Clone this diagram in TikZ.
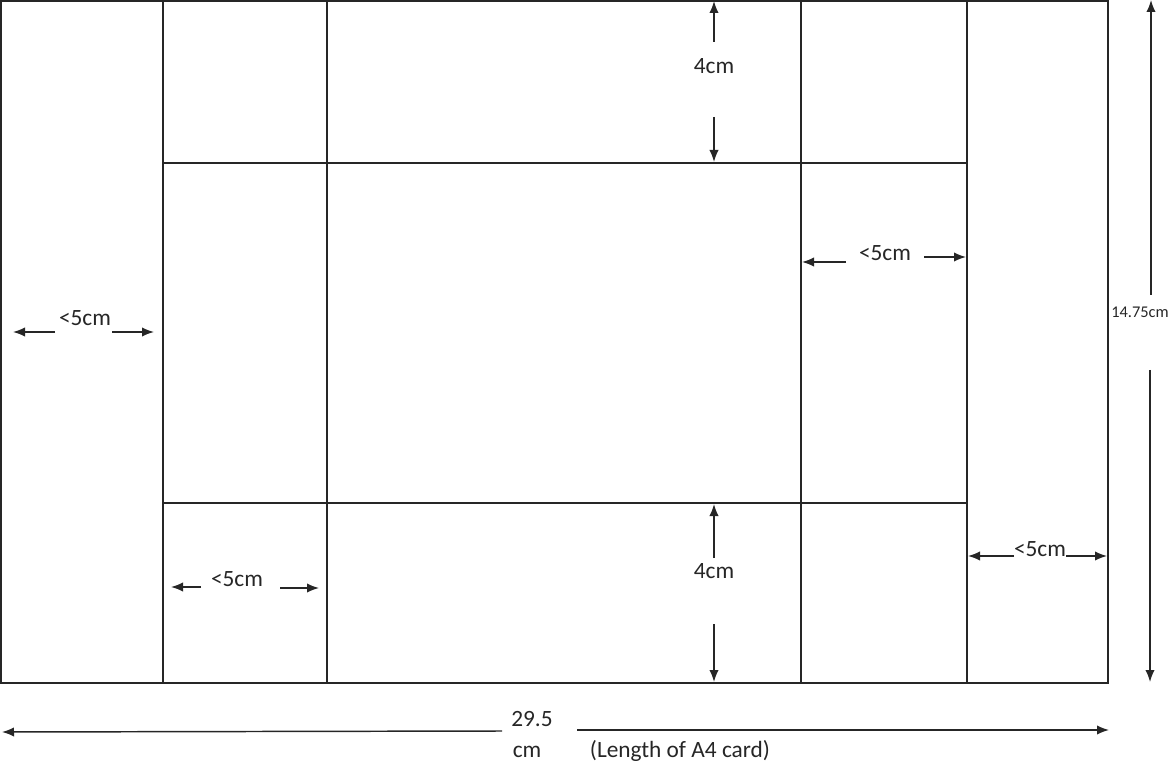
\documentclass[tikz,border=0pt]{standalone}
\usepackage{fontspec}
\setmainfont{Carlito}
\usetikzlibrary{arrows.meta}
\begin{document}
\begin{tikzpicture}[x=0.75pt,y=-0.75pt,
  edge/.style={draw=black!85,line width=1.1pt},
  dimarrow/.style={draw=black!85,line width=1.1pt,-{Latex[length=9pt,width=7pt]}},
  lbl/.style={inner sep=0pt,font=\fontsize{17.5}{20}\selectfont,text=black!85},
  smalllbl/.style={inner sep=0pt,font=\fontsize{12.3}{15}\selectfont,text=black!85}]
\useasboundingbox (0,0) rectangle (1170,762);
% panels
\draw[edge] (1,1) rectangle (1108,683);
\draw[edge] (163,1) -- (163,683);
\draw[edge] (327,1) -- (327,683);
\draw[edge] (801,1) -- (801,683);
\draw[edge] (967,1) -- (967,683);
\draw[edge] (163,163) -- (967,163);
\draw[edge] (163,503) -- (967,503);
% labels
\node[lbl] (l5) at (85,318) {<5cm};
\node[lbl] (m5) at (885,253) {<5cm};
\node[lbl] (br5) at (1040,549) {<5cm};
\node[lbl] (bl5) at (237,579) {<5cm};
\node[lbl] (t4) at (714,66) {4cm};
\node[lbl] (b4) at (714,571) {4cm};
\node[smalllbl,anchor=east] (h) at (1169,312) {14.75cm};
\node[lbl] (w1) at (532,719) {29.5};
\node[lbl] (w2) at (527,752) {cm};
\node[lbl] (w3) at (680,751) {(Length of A4 card)};
% arrow end points
\coordinate (l5a) at (55,332); \coordinate (l5b) at (13,332);
\coordinate (l5c) at (112,332); \coordinate (l5d) at (154,332);
\coordinate (m5a) at (846,262); \coordinate (m5b) at (802,262);
\coordinate (m5c) at (924,257); \coordinate (m5d) at (966,257);
\coordinate (br5a) at (1014,556); \coordinate (br5b) at (968,556);
\coordinate (br5c) at (1066,556); \coordinate (br5d) at (1107,556);
\coordinate (bl5a) at (201,587); \coordinate (bl5b) at (171,587);
\coordinate (bl5c) at (280,588); \coordinate (bl5d) at (319,588);
\coordinate (t4a) at (714,42); \coordinate (t4b) at (714,1);
\coordinate (t4c) at (714,117); \coordinate (t4d) at (714,162);
\coordinate (b4a) at (714,558); \coordinate (b4b) at (714,504);
\coordinate (b4c) at (714,624); \coordinate (b4d) at (714,682);
\coordinate (ha) at (1151,295); \coordinate (hb) at (1151,0);
\coordinate (hc) at (1150,370); \coordinate (hd) at (1150,682);
\coordinate (wa) at (502,731); \coordinate (wb) at (2,732);
\coordinate (wc) at (577,730); \coordinate (wd) at (1109,730);
% dimension arrows
\draw[dimarrow] (l5a) -- (l5b);
\draw[dimarrow] (l5c) -- (l5d);
\draw[dimarrow] (m5a) -- (m5b);
\draw[dimarrow] (m5c) -- (m5d);
\draw[dimarrow] (br5a) -- (br5b);
\draw[dimarrow] (br5c) -- (br5d);
\draw[dimarrow] (bl5a) -- (bl5b);
\draw[dimarrow] (bl5c) -- (bl5d);
\draw[dimarrow] (t4a) -- (t4b);
\draw[dimarrow] (t4c) -- (t4d);
\draw[dimarrow] (b4a) -- (b4b);
\draw[dimarrow] (b4c) -- (b4d);
\draw[dimarrow] (ha) -- (hb);
\draw[dimarrow] (hc) -- (hd);
\draw[dimarrow] (wa) -- (wb);
\draw[dimarrow] (wc) -- (wd);
\end{tikzpicture}
\end{document}
